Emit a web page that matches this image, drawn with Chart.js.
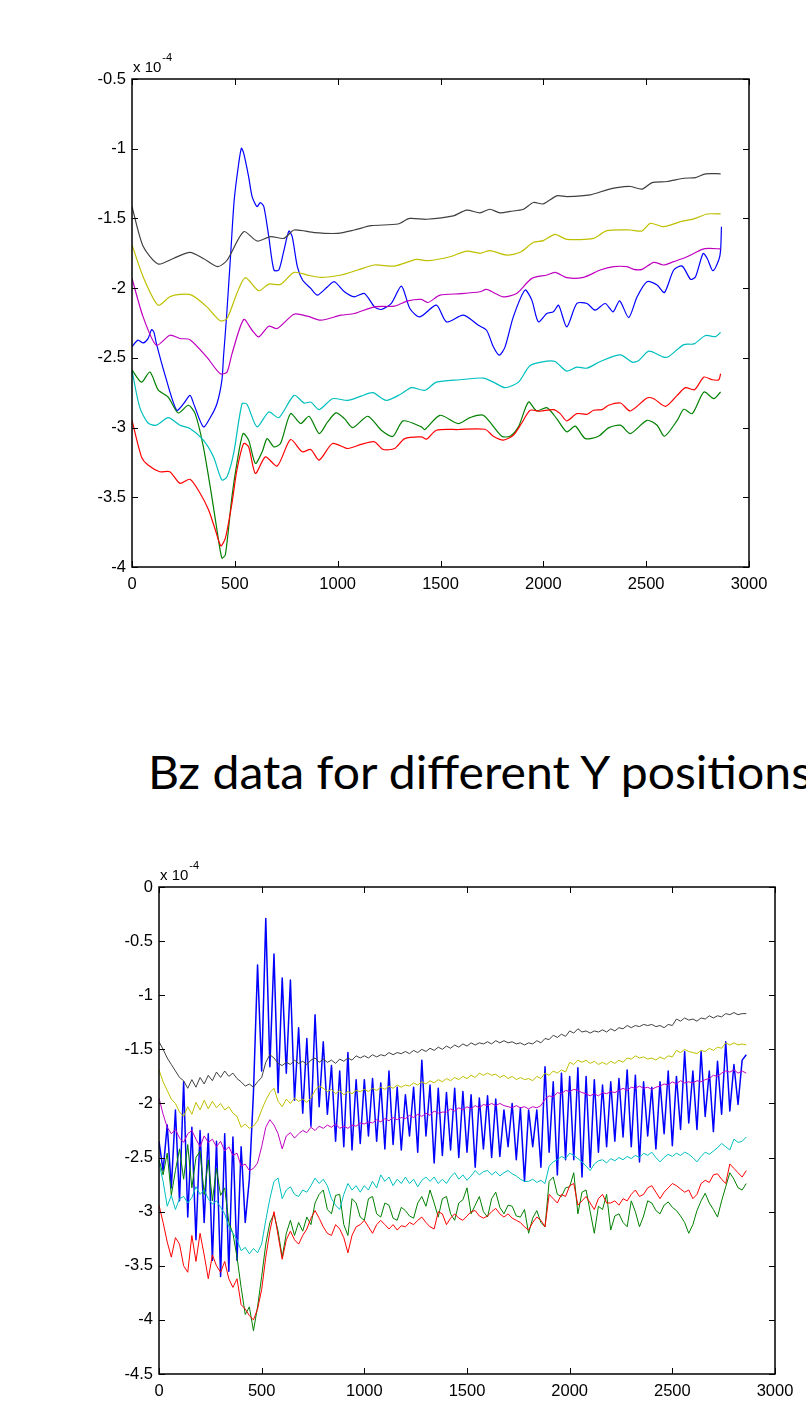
<!DOCTYPE html>
<html>
<head>
<meta charset="utf-8">
<script src="https://cdn.jsdelivr.net/npm/chart.js@4.4.1/dist/chart.umd.min.js"></script>
<style>
  html, body { margin:0; padding:0; background:#fff; }
  body { width:806px; height:1411px; overflow:hidden; position:relative; }
  canvas { position:absolute; left:0; }
  #title { position:absolute; left:148px; top:748px; font-family:Lato, "Open Sans", sans-serif; font-size:47px; line-height:47px; white-space:nowrap; color:#000; transform-origin:0 0; }
</style>
</head>
<body>
<canvas id="c1" width="806" height="620" style="top:0"></canvas>
<div id="title">Bz data for different Y positions</div>
<canvas id="c2" width="806" height="571" style="top:840px"></canvas>
<script>
// ---------- DATA (values in units of 1e-4) ----------
const xTicksLabel = "x 10";
const expLabel = "-4";
const titleText = "Bz data for different Y positions";

// Top chart (smoothed Bz)
const topGrayX = [0,54,127,201,282,347,416,462,543,608,674,739,788,886,1000,1081,1163,1293,1350,1432,1562,1627,1692,1740,1789,1838,1903,1952,2000,2065,2114,2228,2309,2358,2423,2480,2529,2602,2683,2740,2789,2862];
const topGrayY = [-1.415,-1.70,-1.827,-1.787,-1.743,-1.787,-1.846,-1.80,-1.595,-1.662,-1.63,-1.643,-1.583,-1.602,-1.607,-1.583,-1.552,-1.54,-1.50,-1.506,-1.482,-1.44,-1.46,-1.434,-1.46,-1.45,-1.434,-1.386,-1.396,-1.338,-1.343,-1.331,-1.295,-1.279,-1.271,-1.29,-1.243,-1.235,-1.212,-1.207,-1.18,-1.18];

const topYellowX = [0,54,127,184,233,290,364,429,462,510,551,616,665,722,788,853,918,1016,1098,1179,1277,1383,1440,1546,1627,1692,1740,1822,1887,1952,2000,2057,2114,2244,2309,2423,2480,2520,2585,2667,2732,2797,2862];
const topYellowY = [-1.69,-1.918,-2.122,-2.062,-2.045,-2.05,-2.134,-2.234,-2.218,-2.038,-1.925,-2.019,-1.971,-1.973,-1.887,-1.906,-1.923,-1.906,-1.87,-1.834,-1.842,-1.794,-1.803,-1.775,-1.734,-1.75,-1.731,-1.763,-1.743,-1.671,-1.659,-1.614,-1.65,-1.643,-1.588,-1.583,-1.59,-1.535,-1.559,-1.523,-1.503,-1.468,-1.468];

const topMagentaX = [0,54,119,184,233,282,364,429,462,486,543,584,616,665,706,788,853,918,1016,1081,1179,1277,1342,1407,1440,1497,1600,1692,1724,1805,1870,1944,2017,2057,2114,2195,2277,2342,2407,2439,2480,2537,2585,2634,2699,2772,2805,2862];
const topMagentaY = [-1.93,-2.206,-2.41,-2.338,-2.361,-2.37,-2.495,-2.614,-2.602,-2.471,-2.225,-2.302,-2.35,-2.273,-2.29,-2.187,-2.201,-2.23,-2.194,-2.182,-2.134,-2.129,-2.091,-2.081,-2.103,-2.05,-2.04,-2.026,-2.009,-2.062,-2.038,-1.93,-1.906,-1.887,-1.925,-1.923,-1.87,-1.846,-1.846,-1.865,-1.865,-1.815,-1.834,-1.81,-1.775,-1.722,-1.715,-1.719];

const topCyanX = [0,37,78,119,176,233,282,347,396,437,462,494,535,559,608,665,714,788,837,869,910,975,1049,1114,1171,1236,1310,1359,1424,1480,1594,1708,1757,1814,1879,1936,2017,2057,2114,2163,2212,2277,2375,2432,2464,2513,2585,2610,2683,2732,2789,2838,2862];
const topCyanY = [-2.59,-2.852,-2.967,-2.983,-2.929,-2.983,-3.007,-3.09,-3.21,-3.376,-3.352,-3.186,-2.829,-2.833,-2.995,-2.888,-2.929,-2.769,-2.824,-2.817,-2.871,-2.793,-2.805,-2.774,-2.75,-2.805,-2.757,-2.714,-2.733,-2.674,-2.657,-2.645,-2.674,-2.714,-2.674,-2.555,-2.524,-2.526,-2.595,-2.567,-2.574,-2.526,-2.479,-2.531,-2.519,-2.452,-2.495,-2.49,-2.405,-2.40,-2.34,-2.348,-2.317];

const topGreenX = [0,46,87,127,176,225,274,307,347,388,413,437,454,486,510,540,567,600,633,657,690,722,771,820,861,910,951,992,1033,1073,1147,1212,1269,1318,1407,1424,1497,1586,1643,1708,1798,1838,1879,1928,1968,2017,2065,2114,2155,2204,2268,2317,2375,2423,2504,2553,2589,2651,2683,2724,2781,2829,2862];
const topGreenY = [-2.586,-2.674,-2.602,-2.729,-2.781,-2.895,-2.84,-2.90,-3.138,-3.495,-3.733,-3.936,-3.912,-3.495,-3.257,-3.043,-3.09,-3.257,-3.174,-3.079,-3.138,-3.114,-2.90,-2.971,-2.919,-3.043,-2.96,-2.895,-2.936,-3.00,-2.919,-3.019,-3.062,-2.952,-2.995,-3.014,-2.912,-2.971,-2.929,-2.912,-3.062,-3.062,-2.995,-2.817,-2.881,-2.857,-2.936,-3.031,-2.99,-3.079,-3.062,-3.002,-2.983,-3.043,-2.948,-2.983,-3.062,-2.948,-2.869,-2.90,-2.745,-2.793,-2.745];

const topRedX = [0,46,78,135,184,233,282,331,372,405,432,454,486,510,543,567,600,649,706,771,828,869,910,975,1049,1114,1179,1220,1277,1326,1407,1432,1480,1586,1716,1757,1806,1854,1895,1936,1984,2049,2082,2114,2163,2212,2244,2285,2317,2375,2423,2504,2537,2594,2651,2691,2735,2781,2821,2853,2862];
const topRedY = [-2.948,-3.21,-3.269,-3.317,-3.317,-3.40,-3.371,-3.471,-3.59,-3.733,-3.848,-3.793,-3.543,-3.305,-3.114,-3.138,-3.329,-3.21,-3.276,-3.086,-3.174,-3.157,-3.233,-3.114,-3.15,-3.121,-3.102,-3.157,-3.15,-3.079,-3.067,-3.083,-3.019,-3.014,-3.012,-3.062,-3.09,-3.055,-2.967,-2.876,-2.883,-2.871,-2.90,-2.952,-2.90,-2.905,-2.876,-2.871,-2.84,-2.824,-2.881,-2.788,-2.793,-2.848,-2.769,-2.714,-2.729,-2.638,-2.657,-2.657,-2.614];

const topBlueX = [0,29,54,78,95,106,119,160,217,250,282,300,347,380,413,437,445,460,480,497,519,532,543,567,584,608,624,641,665,690,714,739,763,779,804,829,869,902,951,984,1033,1081,1130,1179,1212,1261,1310,1351,1399,1480,1529,1611,1684,1724,1757,1786,1814,1854,1911,1944,1976,2017,2049,2074,2114,2163,2212,2252,2301,2339,2371,2415,2456,2504,2553,2589,2634,2675,2716,2740,2777,2797,2824,2853,2862,2866];
const topBlueY = [-2.42,-2.373,-2.393,-2.362,-2.297,-2.314,-2.40,-2.62,-2.876,-2.83,-2.769,-2.83,-2.995,-2.93,-2.829,-2.662,-2.49,-2.2,-1.75,-1.367,-1.104,-0.996,-1.032,-1.2,-1.343,-1.415,-1.386,-1.415,-1.631,-1.87,-1.87,-1.727,-1.59,-1.631,-1.846,-1.942,-2.002,-2.05,-1.99,-1.954,-2.026,-2.062,-2.038,-2.134,-2.153,-2.11,-1.985,-2.146,-2.206,-2.122,-2.242,-2.194,-2.266,-2.302,-2.421,-2.481,-2.421,-2.206,-2.014,-2.086,-2.242,-2.182,-2.17,-2.122,-2.278,-2.11,-2.11,-2.158,-2.11,-2.17,-2.091,-2.211,-2.062,-1.954,-1.978,-2.031,-1.87,-1.842,-1.937,-1.918,-1.751,-1.787,-1.875,-1.798,-1.727,-1.559];

// Bottom chart (raw Bz), sampled every 20 units
const botX = [0,20,40,60,80,100,120,140,160,180,200,220,240,260,280,300,320,340,360,380,400,420,440,460,480,500,520,540,560,580,600,620,640,660,680,700,720,740,760,780,800,820,840,860,880,900,920,940,960,980,1000,1020,1040,1060,1080,1100,1120,1140,1160,1180,1200,1220,1240,1260,1280,1300,1320,1340,1360,1380,1400,1420,1440,1460,1480,1500,1520,1540,1560,1580,1600,1620,1640,1660,1680,1700,1720,1740,1760,1780,1800,1820,1840,1860,1880,1900,1920,1940,1960,1980,2000,2020,2040,2060,2080,2100,2120,2140,2160,2180,2200,2220,2240,2260,2280,2300,2320,2340,2360,2380,2400,2420,2440,2460,2480,2500,2520,2540,2560,2580,2600,2620,2640,2660,2680,2700,2720,2740,2760,2780,2800,2820,2840,2860];

const botGray = [-1.43,-1.50,-1.58,-1.64,-1.70,-1.76,-1.79,-1.86,-1.78,-1.85,
 -1.76,-1.82,-1.74,-1.79,-1.71,-1.76,-1.70,-1.75,-1.72,-1.77,
 -1.80,-1.84,-1.82,-1.85,-1.80,-1.76,-1.62,-1.55,-1.58,-1.63,
 -1.65,-1.62,-1.64,-1.60,-1.63,-1.61,-1.64,-1.60,-1.58,-1.62,
 -1.59,-1.62,-1.60,-1.63,-1.59,-1.61,-1.58,-1.60,-1.56,-1.58,
 -1.56,-1.58,-1.55,-1.57,-1.55,-1.56,-1.53,-1.55,-1.53,-1.54,
 -1.52,-1.54,-1.51,-1.53,-1.50,-1.52,-1.49,-1.51,-1.48,-1.50,
 -1.47,-1.49,-1.46,-1.48,-1.45,-1.47,-1.44,-1.46,-1.44,-1.45,
 -1.43,-1.45,-1.42,-1.44,-1.42,-1.44,-1.43,-1.45,-1.44,-1.46,
 -1.44,-1.45,-1.42,-1.44,-1.40,-1.41,-1.37,-1.39,-1.36,-1.38,
 -1.33,-1.35,-1.31,-1.34,-1.33,-1.35,-1.33,-1.34,-1.32,-1.34,
 -1.31,-1.33,-1.30,-1.31,-1.28,-1.30,-1.28,-1.29,-1.27,-1.28,
 -1.27,-1.29,-1.28,-1.30,-1.27,-1.28,-1.22,-1.24,-1.21,-1.23,
 -1.22,-1.24,-1.21,-1.22,-1.19,-1.21,-1.19,-1.20,-1.17,-1.18,
 -1.16,-1.18,-1.17,-1.17];

const botYellow = [-1.69,-1.80,-1.88,-1.96,-2.00,-2.08,-2.12,-2.03,-2.10,-1.99,
 -2.06,-1.97,-2.05,-1.98,-2.04,-2.00,-2.06,-2.03,-2.09,-2.12,
 -2.22,-2.19,-2.23,-2.21,-2.16,-2.06,-1.97,-1.90,-1.86,-1.98,
 -2.03,-1.96,-2.00,-1.95,-1.98,-1.96,-1.99,-1.95,-1.88,-1.84,
 -1.86,-1.89,-1.87,-1.91,-1.88,-1.92,-1.89,-1.91,-1.88,-1.89,
 -1.87,-1.89,-1.86,-1.88,-1.85,-1.87,-1.84,-1.86,-1.83,-1.85,
 -1.83,-1.84,-1.81,-1.83,-1.80,-1.82,-1.79,-1.81,-1.78,-1.80,
 -1.77,-1.79,-1.76,-1.78,-1.75,-1.77,-1.74,-1.76,-1.72,-1.74,
 -1.72,-1.74,-1.73,-1.76,-1.74,-1.77,-1.75,-1.78,-1.76,-1.78,
 -1.77,-1.79,-1.75,-1.77,-1.72,-1.74,-1.70,-1.72,-1.69,-1.71,
 -1.62,-1.64,-1.60,-1.62,-1.60,-1.63,-1.61,-1.64,-1.62,-1.64,
 -1.61,-1.63,-1.60,-1.62,-1.58,-1.59,-1.56,-1.58,-1.57,-1.59,
 -1.58,-1.60,-1.57,-1.59,-1.56,-1.57,-1.51,-1.53,-1.50,-1.52,
 -1.53,-1.54,-1.51,-1.52,-1.49,-1.51,-1.48,-1.49,-1.44,-1.46,
 -1.44,-1.46,-1.45,-1.46];

const botMagenta = [-1.95,-2.10,-2.22,-2.28,-2.24,-2.32,-2.36,-2.28,-2.25,-2.33,
 -2.40,-2.30,-2.36,-2.33,-2.40,-2.35,-2.44,-2.40,-2.48,-2.46,
 -2.58,-2.56,-2.62,-2.60,-2.55,-2.40,-2.22,-2.15,-2.20,-2.28,
 -2.42,-2.30,-2.27,-2.32,-2.28,-2.25,-2.27,-2.22,-2.25,-2.21,
 -2.23,-2.20,-2.22,-2.19,-2.23,-2.21,-2.23,-2.20,-2.21,-2.18,
 -2.19,-2.17,-2.18,-2.15,-2.17,-2.14,-2.16,-2.13,-2.15,-2.13,
 -2.14,-2.11,-2.13,-2.10,-2.12,-2.09,-2.11,-2.07,-2.09,-2.08,
 -2.08,-2.05,-2.07,-2.04,-2.06,-2.03,-2.05,-2.02,-2.04,-2.01,
 -2.02,-2.00,-2.02,-2.00,-2.02,-2.03,-2.04,-2.02,-2.04,-2.03,
 -2.05,-2.03,-2.04,-2.02,-1.96,-1.93,-1.94,-1.90,-1.91,-1.88,
 -1.89,-1.87,-1.88,-1.90,-1.91,-1.93,-1.91,-1.93,-1.90,-1.91,
 -1.89,-1.90,-1.88,-1.86,-1.88,-1.85,-1.86,-1.84,-1.86,-1.85,
 -1.87,-1.85,-1.84,-1.82,-1.83,-1.80,-1.82,-1.79,-1.81,-1.80,
 -1.81,-1.79,-1.80,-1.78,-1.77,-1.74,-1.75,-1.72,-1.70,-1.71,
 -1.69,-1.72,-1.70,-1.72];

const botCyan = [-2.55,-2.72,-2.95,-2.85,-2.98,-2.88,-2.86,-2.92,-2.87,-2.77,
 -2.84,-2.80,-2.88,-2.93,-2.90,-2.96,-3.02,-3.14,-3.20,-3.26,
 -3.36,-3.33,-3.39,-3.34,-3.38,-3.30,-3.08,-2.88,-2.72,-2.69,
 -2.88,-2.80,-2.77,-2.84,-2.86,-2.80,-2.82,-2.76,-2.69,-2.74,
 -2.70,-2.76,-2.88,-2.94,-2.98,-2.84,-2.74,-2.80,-2.76,-2.82,
 -2.76,-2.80,-2.72,-2.78,-2.66,-2.72,-2.68,-2.76,-2.70,-2.74,
 -2.68,-2.74,-2.70,-2.77,-2.71,-2.68,-2.72,-2.68,-2.74,-2.70,
 -2.74,-2.68,-2.64,-2.70,-2.66,-2.71,-2.67,-2.62,-2.66,-2.63,
 -2.62,-2.66,-2.63,-2.67,-2.64,-2.62,-2.65,-2.67,-2.70,-2.72,
 -2.72,-2.70,-2.73,-2.71,-2.74,-2.58,-2.54,-2.52,-2.49,-2.51,
 -2.46,-2.48,-2.51,-2.54,-2.58,-2.62,-2.56,-2.53,-2.52,-2.55,
 -2.51,-2.53,-2.50,-2.52,-2.49,-2.51,-2.48,-2.50,-2.46,-2.48,
 -2.45,-2.50,-2.54,-2.50,-2.47,-2.49,-2.46,-2.48,-2.45,-2.47,
 -2.50,-2.54,-2.49,-2.45,-2.47,-2.44,-2.41,-2.37,-2.40,-2.43,
 -2.33,-2.36,-2.35,-2.31];

const botGreen = [-2.52,-2.66,-2.46,-2.85,-2.62,-2.42,-2.70,-2.38,-2.78,-2.50,
 -2.44,-2.84,-2.52,-2.90,-2.60,-2.85,-2.78,-3.10,-3.20,-3.42,
 -3.70,-3.95,-3.88,-4.10,-3.88,-3.60,-3.30,-3.10,-3.02,-3.18,
 -3.42,-3.20,-3.08,-3.22,-3.10,-3.18,-3.05,-3.12,-2.92,-2.84,
 -2.80,-2.98,-3.02,-2.85,-2.84,-3.12,-3.22,-2.88,-2.92,-3.05,
 -3.08,-2.88,-2.86,-3.02,-3.05,-2.92,-2.94,-3.06,-3.08,-2.96,
 -2.99,-3.04,-3.06,-2.92,-2.86,-2.95,-2.80,-2.92,-3.05,-2.88,
 -2.86,-3.02,-3.08,-2.92,-2.89,-2.78,-3.02,-2.94,-2.86,-3.00,
 -3.05,-2.88,-2.82,-2.96,-3.02,-2.94,-2.95,-3.04,-3.05,-2.98,
 -3.20,-3.06,-2.99,-3.10,-3.14,-2.72,-2.68,-2.84,-2.86,-2.78,
 -2.77,-2.64,-3.02,-2.82,-2.80,-3.00,-3.20,-2.95,-2.98,-2.84,
 -3.17,-3.04,-3.02,-3.10,-3.14,-2.90,-3.00,-3.14,-3.04,-2.90,
 -2.92,-2.99,-3.02,-2.94,-2.91,-2.96,-2.99,-3.04,-3.10,-3.20,
 -3.12,-2.99,-2.90,-2.83,-2.92,-2.98,-3.05,-2.90,-2.77,-2.64,
 -2.70,-2.78,-2.80,-2.74];

const botRed = [-2.94,-3.10,-3.28,-3.42,-3.24,-3.30,-3.50,-3.56,-3.22,-3.46,
 -3.20,-3.40,-3.62,-3.40,-3.50,-3.56,-3.46,-3.62,-3.70,-3.62,
 -3.86,-3.90,-3.96,-4.00,-3.90,-3.72,-3.42,-3.18,-3.00,-3.22,
 -3.44,-3.26,-3.18,-3.26,-3.30,-3.22,-3.16,-3.06,-2.99,-3.06,
 -3.14,-3.20,-3.22,-3.12,-3.16,-3.24,-3.38,-3.22,-3.14,-3.12,
 -3.08,-3.14,-3.20,-3.12,-3.08,-3.12,-3.16,-3.12,-3.17,-3.13,
 -3.14,-3.10,-3.12,-3.08,-3.05,-3.10,-3.14,-3.16,-3.00,-3.02,
 -3.12,-3.06,-3.02,-3.06,-3.08,-3.04,-3.00,-2.99,-3.04,-3.06,
 -3.04,-3.00,-2.97,-3.02,-3.05,-3.02,-3.06,-3.08,-3.10,-3.14,
 -3.17,-3.10,-3.05,-3.08,-3.14,-2.84,-2.88,-2.92,-2.84,-2.86,
 -2.76,-2.74,-2.94,-2.90,-2.86,-2.92,-2.98,-2.88,-2.84,-2.92,
 -2.92,-2.90,-2.94,-2.88,-2.90,-2.84,-2.80,-2.86,-2.84,-2.78,
 -2.76,-2.82,-2.88,-2.82,-2.78,-2.74,-2.76,-2.79,-2.82,-2.80,
 -2.88,-2.84,-2.74,-2.71,-2.73,-2.66,-2.65,-2.70,-2.74,-2.56,
 -2.60,-2.64,-2.68,-2.62];

const botBlue = [-2.35,-2.62,-2.20,-2.78,-2.06,-2.90,-1.80,-3.05,-2.22,-3.26,
 -2.25,-3.10,-2.28,-3.45,-2.35,-3.60,-2.28,-3.55,-2.31,-3.45,
 -2.40,-3.10,-2.70,-1.90,-0.72,-1.70,-0.29,-1.66,-0.62,-1.90,
 -0.84,-1.72,-0.86,-1.97,-1.30,-2.09,-1.40,-2.21,-1.18,-2.03,
 -1.43,-2.10,-1.65,-2.35,-1.70,-2.40,-1.53,-2.43,-1.78,-2.37,
 -1.78,-2.30,-1.77,-2.35,-1.81,-2.42,-1.70,-2.38,-1.85,-2.43,
 -1.92,-2.30,-1.85,-2.45,-1.60,-2.30,-1.83,-2.55,-1.86,-2.48,
 -1.90,-2.43,-1.86,-2.50,-1.89,-2.45,-1.92,-2.59,-1.95,-2.42,
 -1.93,-2.50,-1.96,-2.49,-2.06,-2.40,-2.00,-2.52,-2.04,-2.72,
 -2.06,-2.40,-2.06,-2.59,-1.66,-2.45,-1.80,-2.66,-1.72,-2.52,
 -1.75,-2.52,-1.67,-2.68,-1.75,-2.59,-1.78,-2.45,-1.83,-2.40,
 -1.80,-2.35,-1.77,-2.31,-1.69,-2.40,-1.74,-2.54,-1.80,-2.30,
 -1.85,-2.42,-1.80,-2.28,-1.70,-2.39,-1.75,-2.24,-1.52,-2.18,
 -1.70,-2.24,-1.52,-2.12,-1.70,-2.26,-1.61,-2.10,-1.43,-2.07,
 -1.64,-2.01,-1.60,-1.55];

// ---------- COLOURS (MATLAB default line order) ----------
const colBlue = '#0000ff', colGreen = '#008000', colRed = '#ff0000', colCyan = '#00bfbf',
      colMagenta = '#bf00bf', colYellow = '#bfbf00', colGray = '#404040';

// ---------- HELPERS ----------
function pts(xs, ys) { return xs.map((x, i) => ({ x: x, y: ys[i] })); }
function fmt(v) { return String(Math.round(v * 1000) / 1000); }
const tickFont = { family: '"Liberation Sans", Arial, sans-serif', size: 16.5 };

const matlabAxes = {
  id: 'matlabAxes',
  afterDatasetsDraw(chart) {
    const ctx = chart.ctx, a = chart.chartArea, xs = chart.scales.x, ys = chart.scales.y;
    ctx.save();
    ctx.strokeStyle = '#000';
    ctx.lineWidth = 1;
    ctx.beginPath();
    xs.ticks.forEach(t => {
      const p = Math.round(xs.getPixelForValue(t.value)) + 0.5;
      ctx.moveTo(p, a.bottom); ctx.lineTo(p, a.bottom - 6);
      ctx.moveTo(p, a.top); ctx.lineTo(p, a.top + 6);
    });
    ys.ticks.forEach(t => {
      const p = Math.round(ys.getPixelForValue(t.value)) + 0.5;
      ctx.moveTo(a.left, p); ctx.lineTo(a.left + 6, p);
      ctx.moveTo(a.right, p); ctx.lineTo(a.right - 6, p);
    });
    ctx.stroke();
    ctx.lineWidth = 1.5;
    ctx.strokeRect(Math.round(a.left), Math.round(a.top), Math.round(a.right - a.left), Math.round(a.bottom - a.top));
    ctx.fillStyle = '#000';
    ctx.textBaseline = 'alphabetic';
    ctx.textAlign = 'left';
    ctx.font = '15px "Liberation Sans", Arial, sans-serif';
    ctx.fillText(xTicksLabel, a.left + 1, a.top - 7);
    const w = ctx.measureText(xTicksLabel).width;
    ctx.font = '11px "Liberation Sans", Arial, sans-serif';
    ctx.fillText(expLabel, a.left + 2 + w, a.top - 18);
    ctx.restore();
  }
};

function makeOptions(yMin, yMax, pad, yAxisWidth) {
  return {
    responsive: false,
    animation: false,
    devicePixelRatio: 1,
    layout: { padding: pad },
    plugins: { legend: { display: false }, tooltip: { enabled: false }, title: { display: false } },
    elements: { point: { radius: 0 } },
    scales: {
      x: {
        type: 'linear', min: 0, max: 3000,
        grid: { display: false, drawTicks: false }, border: { display: false },
        ticks: { stepSize: 500, autoSkip: false, maxRotation: 0, padding: 8, color: '#000', font: tickFont, callback: v => fmt(v) },
        afterFit(s) { s.height = 30; }
      },
      y: {
        type: 'linear', min: yMin, max: yMax,
        grid: { display: false, drawTicks: false }, border: { display: false },
        ticks: { stepSize: 0.5, autoSkip: false, padding: 6, color: '#000', font: tickFont, callback: v => fmt(v) },
        afterFit(s) { s.width = yAxisWidth; }
      }
    }
  };
}

function ds(data, color, width, tension) {
  return { data: data, borderColor: color, backgroundColor: color, borderWidth: width, pointRadius: 0, fill: false,
           tension: tension, borderJoinStyle: 'round' };
}

// Chart.js draws dataset 0 on top, so the list is in reverse MATLAB order
new Chart(document.getElementById('c1'), {
  type: 'line',
  data: { datasets: [
    ds(pts(topGrayX, topGrayY), colGray, 1.2, 0.25),
    ds(pts(topYellowX, topYellowY), colYellow, 1.2, 0.25),
    ds(pts(topMagentaX, topMagentaY), colMagenta, 1.2, 0.25),
    ds(pts(topCyanX, topCyanY), colCyan, 1.2, 0.25),
    ds(pts(topRedX, topRedY), colRed, 1.2, 0.25),
    ds(pts(topGreenX, topGreenY), colGreen, 1.2, 0.25),
    ds(pts(topBlueX, topBlueY), colBlue, 1.2, 0.25)
  ]},
  options: makeOptions(-4, -0.5, { left: 0, top: 79, right: 57, bottom: 23 }, 132),
  plugins: [matlabAxes]
});

new Chart(document.getElementById('c2'), {
  type: 'line',
  data: { datasets: [
    ds(pts(botX, botGray), colGray, 1, 0),
    ds(pts(botX, botYellow), colYellow, 1, 0),
    ds(pts(botX, botMagenta), colMagenta, 1, 0),
    ds(pts(botX, botCyan), colCyan, 1, 0),
    ds(pts(botX, botRed), colRed, 1, 0),
    ds(pts(botX, botGreen), colGreen, 1, 0),
    ds(pts(botX, botBlue), colBlue, 1.5, 0)
  ]},
  options: makeOptions(-4.5, 0, { left: 0, top: 47, right: 31, bottom: 7 }, 159),
  plugins: [matlabAxes]
});

// Title: fit "…position" to the width seen in the reference
(function () {
  const el = document.getElementById('title');
  el.textContent = titleText;
  const c = document.createElement('canvas').getContext('2d');
  c.font = '47px Lato, "Open Sans", sans-serif';
  const w = c.measureText(titleText.slice(0, -1)).width;
  el.style.transform = 'scaleX(' + (648 / w) + ')';
})();
</script>
</body>
</html>
